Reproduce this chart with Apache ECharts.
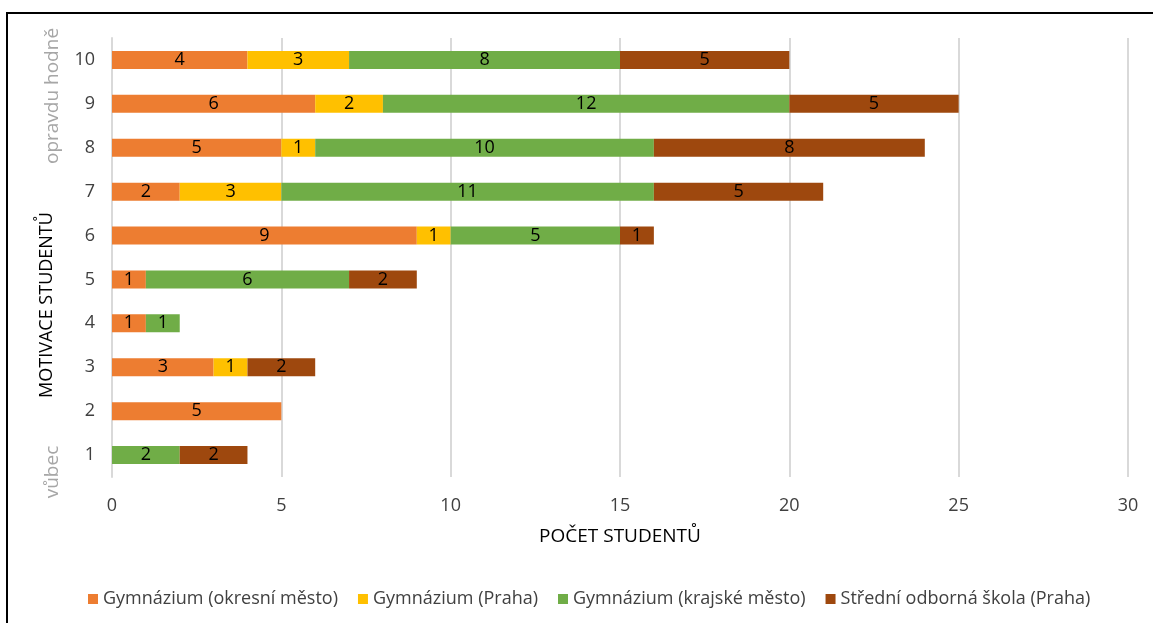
<!DOCTYPE html>
<html>
<head>
<meta charset="utf-8">
<script src="https://cdn.jsdelivr.net/npm/echarts@6/dist/echarts.min.js"></script>
<style>
  html, body { margin: 0; padding: 0; background: #fff; }
  #chart { width: 1153px; height: 623px; }
</style>
</head>
<body>
<div id="chart"></div>
<script>
// Motivation levels (1 = vůbec, 10 = opravdu hodně)
const categories = ['1', '2', '3', '4', '5', '6', '7', '8', '9', '10'];

// Number of students per motivation level and school type
const gymOkresni = [0, 5, 3, 1, 1, 9, 2, 5, 6, 4];
const gymPraha   = [0, 0, 1, 0, 0, 1, 3, 1, 2, 3];
const gymKrajske = [2, 0, 0, 1, 6, 5, 11, 10, 12, 8];
const sosPraha   = [2, 0, 2, 0, 2, 1, 5, 8, 5, 5];

const seriesNames = [
  'Gymnázium (okresní město)',
  'Gymnázium (Praha)',
  'Gymnázium (krajské město)',
  'Střední odborná škola (Praha)'
];
const xTicks = [0, 5, 10, 15, 20, 25, 30];

const colors = ['#ED7D31', '#FFC000', '#70AD47', '#9E480E'];
const FONT = '"Open Sans", "Noto Sans", sans-serif';

const chart = echarts.init(document.getElementById('chart'));

function makeSeries(name, values, color) {
  return {
    name: name,
    type: 'bar',
    stack: 'total',
    barWidth: 18,
    // zero counts are left out so no empty label is drawn
    data: values.map(v => (v === 0 ? null : v)),
    itemStyle: { color: color },
    label: {
      show: true,
      position: 'inside',
      color: '#000',
      fontFamily: FONT,
      fontSize: 18
    }
  };
}

chart.setOption({
  animation: false,
  color: colors,
  grid: { left: 112, right: 25, top: 38, bottom: 146 },
  xAxis: {
    type: 'value',
    min: xTicks[0],
    max: xTicks[xTicks.length - 1],
    interval: 5,
    name: 'POČET STUDENTŮ',
    nameLocation: 'middle',
    nameGap: 50,
    nameTextStyle: { color: '#000', fontFamily: FONT, fontSize: 19 },
    axisLine: { show: false },
    axisTick: { show: false },
    axisLabel: { color: '#404040', fontFamily: FONT, fontSize: 18, margin: 20 },
    splitLine: { lineStyle: { color: '#D9D9D9', width: 2 } }
  },
  yAxis: {
    type: 'category',
    data: categories,
    axisLine: { show: true, lineStyle: { color: '#D9D9D9', width: 2 } },
    axisTick: { show: false },
    axisLabel: { color: '#404040', fontFamily: FONT, fontSize: 18, margin: 17 }
  },
  legend: {
    bottom: 10,
    left: 83,
    icon: 'rect',
    itemWidth: 10,
    itemHeight: 10,
    itemGap: 20,
    textStyle: { color: '#404040', fontFamily: FONT, fontSize: 18 },
    data: seriesNames
  },
  graphic: [
    {
      type: 'rect',
      silent: true,
      shape: { x: 7, y: 13, width: 1160, height: 640 },
      style: { fill: 'none', stroke: '#000', lineWidth: 2 }
    },
    {
      type: 'text',
      x: 47, y: 305,
      rotation: Math.PI / 2,
      style: {
        text: 'MOTIVACE STUDENTŮ',
        fill: '#000',
        font: '18px ' + FONT,
        align: 'center',
        verticalAlign: 'middle'
      }
    },
    {
      type: 'text',
      x: 53, y: 96,
      rotation: Math.PI / 2,
      style: {
        text: 'opravdu hodně',
        fill: '#A6A6A6',
        font: '19px ' + FONT,
        align: 'center',
        verticalAlign: 'middle'
      }
    },
    {
      type: 'text',
      x: 53, y: 472,
      rotation: Math.PI / 2,
      style: {
        text: 'vůbec',
        fill: '#A6A6A6',
        font: '19px ' + FONT,
        align: 'center',
        verticalAlign: 'middle'
      }
    }
  ],
  series: [
    makeSeries(seriesNames[0], gymOkresni, colors[0]),
    makeSeries(seriesNames[1], gymPraha, colors[1]),
    makeSeries(seriesNames[2], gymKrajske, colors[2]),
    makeSeries(seriesNames[3], sosPraha, colors[3])
  ]
});
</script>
</body>
</html>
